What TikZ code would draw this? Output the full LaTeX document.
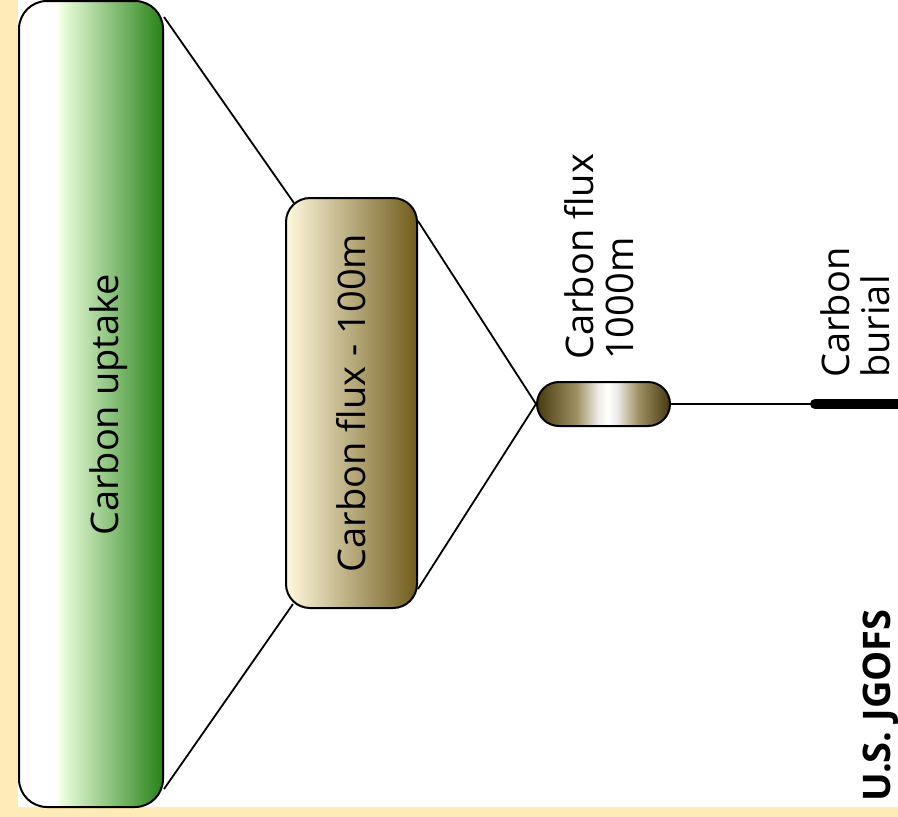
\documentclass[tikz,border=0pt]{standalone}
\usepackage{fontspec}
\setmainfont{Open Sans}
\definecolor{bgyellow}{RGB}{255,235,183}
\definecolor{dkgreen}{RGB}{40,130,24}
\definecolor{ltgreen}{RGB}{236,255,222}
\definecolor{cream}{RGB}{255,249,222}
\definecolor{tanmid}{RGB}{200,180,130}
\definecolor{olive}{RGB}{112,92,28}
\definecolor{dkolive}{RGB}{70,58,14}
\definecolor{capmid}{RGB}{160,145,100}
\pgfdeclarehorizontalshading{greenshade}{100bp}{color(0bp)=(white); color(25bp)=(white); color(38bp)=(white); color(39.5bp)=(ltgreen); color(75bp)=(dkgreen); color(100bp)=(dkgreen)}
\pgfdeclarehorizontalshading{capshade}{100bp}{color(0bp)=(dkolive); color(25bp)=(dkolive); color(40bp)=(capmid); color(48bp)=(white!90!dkolive); color(51.5bp)=(white); color(55bp)=(white!90!dkolive); color(63bp)=(capmid); color(75bp)=(dkolive); color(100bp)=(dkolive)}
\tikzset{
  box/.style={draw=black, line width=2pt, rectangle, inner sep=0pt},
  conn/.style={draw=black, line width=1.8pt},
  lbl/.style={rotate=90, inner sep=0pt, font=\fontsize{38}{40}\selectfont},
}
\begin{document}
\begin{tikzpicture}[x=1pt,y=-1pt]
\fill[bgyellow] (0,0) rectangle (898,817);
\fill[white] (18,0) rectangle (898,807);
\useasboundingbox (0,0) rectangle (898,817);
% boxes
\node[box, rounded corners=28pt, shade, shading=greenshade, minimum width=144pt, minimum height=806pt] (uptake) at (91,404) {};
\node[box, rounded corners=24pt, left color=cream, middle color=tanmid, right color=olive, minimum width=131pt, minimum height=410pt] (flux100) at (351.5,403) {};
\node[box, rounded corners=22pt, shade, shading=capshade, minimum width=133pt, minimum height=44pt] (flux1000) at (603.5,404) {};
\coordinate (bur) at (815,404);
\coordinate (burend) at (910,404);
% connectors
\draw[conn] ([yshift=-17pt]uptake.north east) -- ([xshift=9pt,yshift=-6pt]flux100.north west);
\draw[conn] ([yshift=19pt]uptake.south east) -- ([xshift=8pt,yshift=5pt]flux100.south west);
\draw[conn] ([yshift=-24pt]flux100.north east) -- (flux1000.west);
\draw[conn] ([yshift=20pt]flux100.south east) -- (flux1000.west);
\draw[conn] (flux1000.east) -- (bur);
\draw[line width=10pt, line cap=round] (bur) -- (burend);
% labels
\node[lbl, anchor=base] (t1) at (118,405) {Carbon uptake};
\node[lbl, anchor=base] (t2) at (365,403) {Carbon flux - 100m};
\node[lbl, anchor=base west, align=left] (t3) at (633,360) {Carbon flux\\1000m};
\node[lbl, anchor=base west, align=left] (t4) at (889,378) {Carbon\\burial};
\node[lbl, anchor=base west, font=\fontsize{38}{40}\selectfont\bfseries] (t5) at (890,802) {U.S. JGOFS};
\end{tikzpicture}
\end{document}
